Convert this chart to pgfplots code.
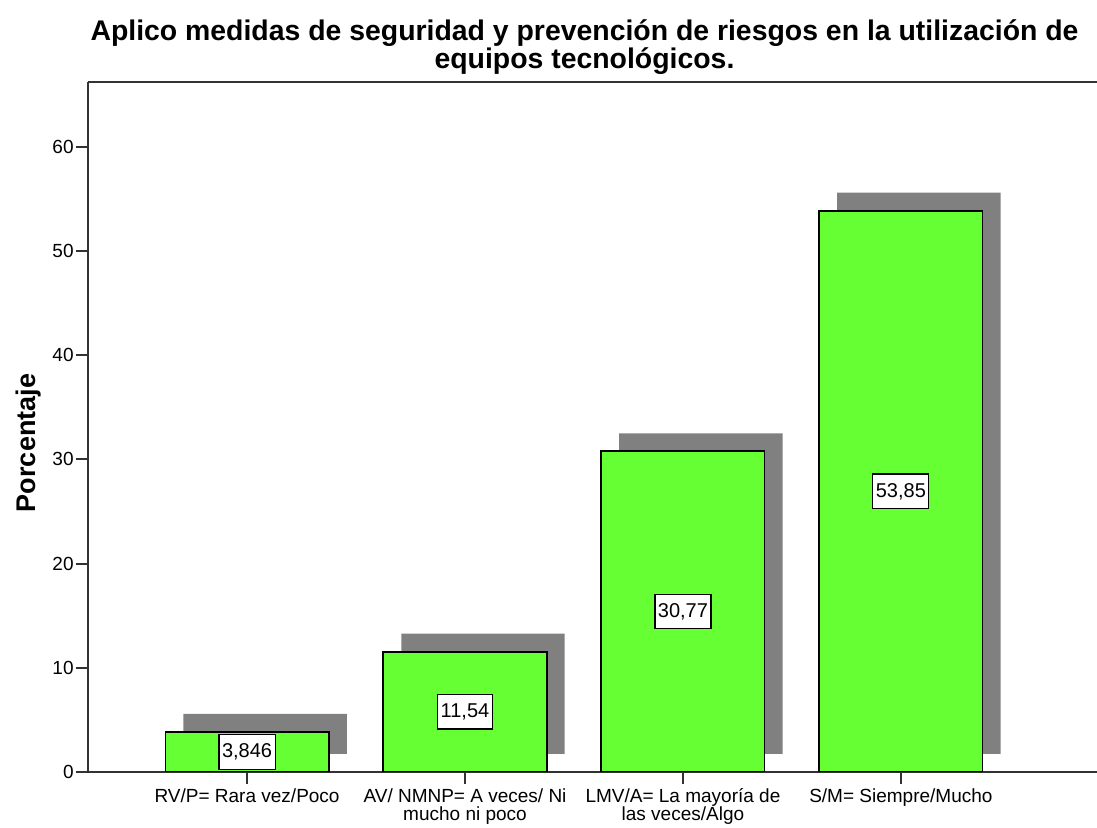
\documentclass[border=0pt]{standalone}
\usepackage{fontspec}
\setmainfont{Liberation Sans}
\usepackage{pgfplots}
\usepackage{pgfplotstable}
\pgfplotsset{compat=1.18}
\definecolor{bargreen}{RGB}{102,255,51}
\definecolor{shadowgray}{RGB}{128,128,128}
\definecolor{axisgray}{RGB}{50,50,50}

\pgfplotstableread{
x y lab
0 3.846 3,846
1 11.54 11,54
2 30.77 30,77
3 53.85 53,85
}\datatab

\begin{document}
\begin{tikzpicture}
\begin{axis}[
  name=ax,
  scale only axis,
  width=504.5pt, height=345pt,
  xmin=-0.73, xmax=3.9,
  ymin=0, ymax=66.2,
  axis x line*=box, axis y line*=left,
  tick pos=left,
  tick align=outside,
  major tick length=6pt,
  axis line style={draw=axisgray, line width=1pt},
  every tick/.style={draw=axisgray, line width=1pt},
  xtick={0,1,2,3},
  xticklabels={{RV/P= Rara vez/Poco},
               {AV/ NMNP= A veces/ Ni\\mucho ni poco},
               {LMV/A= La mayoría de\\las veces/Algo},
               {S/M= Siempre/Mucho}},
  xticklabel style={align=center, font=\fontsize{9.5}{9}\selectfont, inner sep=1pt, yshift=-1pt},
  ytick={0,10,...,60},
  yticklabel style={font=\fontsize{9.5}{10}\selectfont, inner sep=1pt},
  /pgf/number format/assume math mode=true,
  ylabel={Porcentaje},
  ylabel style={font=\bfseries\fontsize{13.5}{13.5}\selectfont, xshift=-8pt, yshift=1pt},
  title={Aplico medidas de seguridad y prevención de riesgos en la utilización de\\equipos tecnológicos.},
  title style={font=\bfseries\fontsize{14.2}{12}\selectfont, align=center, yshift=-6pt, xshift=-4pt},
]
% shadow behind each bar
\addplot[ybar, bar width=0.75, fill=shadowgray, draw=none,
  xshift=9pt, yshift=9pt] table[x=x, y=y] {\datatab};
% green bars with boxed labels at mid height
\addplot[ybar, bar width=0.75, fill=bargreen, draw=black, line width=0.8pt,
  point meta=explicit symbolic,
  visualization depends on={y \as \rawy},
  nodes near coords,
  nodes near coords style={anchor=center, fill=white, draw=black, line width=0.6pt,
    inner xsep=1.5pt, inner ysep=4.5pt,
    font=\fontsize{10}{10}\selectfont,
    shift={(axis direction cs:0,-\rawy/2)}},
] table[x=x, y=y, meta=lab] {\datatab};
\end{axis}
\pgfresetboundingbox
\path[use as bounding box] ([xshift=-44pt, yshift=-28pt]ax.south west)
  rectangle ([yshift=41pt]ax.north east);
\end{tikzpicture}
\end{document}
